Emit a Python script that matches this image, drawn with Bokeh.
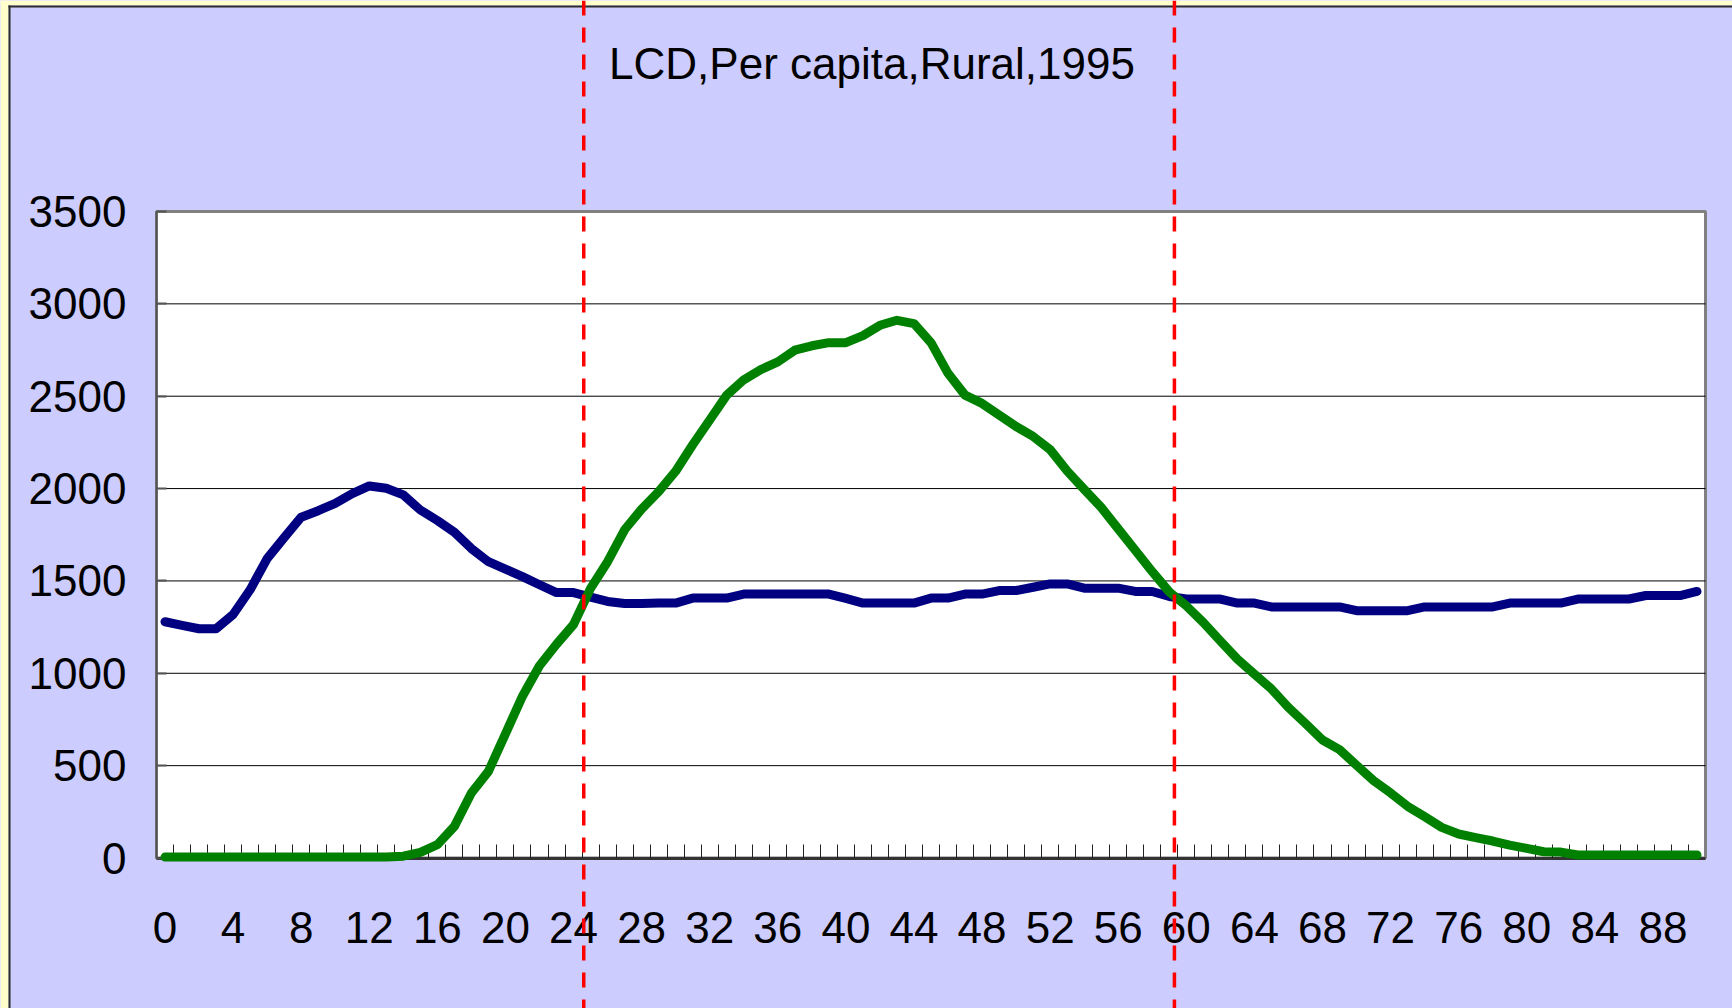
from bokeh.plotting import figure
from bokeh.models import (Range1d, LinearAxis, FixedTicker, Span, Label,
                          BoxAnnotation, ColumnDataSource, Grid)
from bokeh.embed import file_html
from bokeh.resources import INLINE

# ---------------- data ----------------
ages = list(range(0, 91))

lcd_blue = [
    1279, 1259, 1241, 1241, 1318, 1452, 1621, 1734, 1845, 1880,
    1920, 1973, 2014, 2002, 1966, 1884, 1827, 1764, 1675, 1604,
    1564, 1523, 1479, 1437, 1437, 1412, 1389, 1378, 1378, 1380,
    1380, 1407, 1407, 1407, 1429, 1429, 1429, 1429, 1429, 1429,
    1405, 1380, 1380, 1380, 1380, 1407, 1407, 1429, 1429, 1448,
    1448, 1466, 1484, 1484, 1461, 1461, 1461, 1443, 1443, 1416,
    1402, 1402, 1402, 1380, 1380, 1359, 1359, 1359, 1359, 1359,
    1339, 1339, 1339, 1339, 1359, 1359, 1359, 1359, 1359, 1380,
    1380, 1380, 1380, 1402, 1402, 1402, 1402, 1421, 1421, 1421,
    1443,
]

lcd_green = [
    5, 5, 5, 5, 5, 5, 5, 5, 5, 5,
    5, 5, 5, 5, 10, 30, 72, 171, 352, 469,
    672, 876, 1041, 1157, 1264, 1460, 1604, 1777, 1889, 1983,
    2094, 2237, 2371, 2506, 2589, 2644, 2686, 2749, 2773, 2790,
    2790, 2828, 2884, 2911, 2893, 2790, 2624, 2506, 2461, 2398,
    2336, 2282, 2211, 2095, 1996, 1898, 1782, 1666, 1550, 1440,
    1365, 1275, 1175, 1077, 996, 915, 815, 728, 639, 587,
    502, 419, 352, 280, 224, 166, 130, 110, 92, 70,
    52, 34, 32, 16, 16, 16, 16, 16, 16, 16,
    16,
]

y_ticks = [0, 500, 1000, 1500, 2000, 2500, 3000, 3500]
x_label_ticks = list(range(0, 89, 4))
marker_ages = [24.6, 59.3]
title_text = "LCD,Per capita,Rural,1995"

# ---------------- layout ----------------
FONT = "Liberation Sans"
FONT_SIZE = "44px"
W, H = 1732, 1008
FRAME_L, FRAME_R = 156.0, 1705.0      # canvas px of the plot area
FRAME_T, FRAME_B = 211.0, 857.5

x_lo, x_hi = ages[0] - 0.5, ages[-1] + 0.5
y_lo, y_hi = y_ticks[0], y_ticks[-1]
dx = (x_hi - x_lo) / (FRAME_R - FRAME_L)
dy = (y_hi - y_lo) / (FRAME_B - FRAME_T)
x_range = Range1d(x_lo - FRAME_L * dx, x_hi + (W - FRAME_R) * dx)
y_range = Range1d(y_lo - (H - FRAME_B) * dy, y_hi + FRAME_T * dy)


def px_to_x(px):
    return x_range.start + px * dx


def py_to_y(py):
    return y_range.end - py * dy


p = figure(width=W, height=H, x_range=x_range, y_range=y_range,
           output_backend="svg", toolbar_location=None,
           x_axis_location=None, y_axis_location=None, min_border=0,
           background_fill_color="#CCCCFF", border_fill_color="#CCCCFF",
           outline_line_color=None, title=None)

# drop any default grids (grid lines are drawn below, inside the plot area only)
p.center = [r for r in p.center if not isinstance(r, Grid)]

# outer yellow frame and its dark edge (top-left corner of the chart object)
for box in [
    dict(right=px_to_x(8)),                       # yellow strip, left
    dict(bottom=py_to_y(5)),                      # yellow strip, top
]:
    p.add_layout(BoxAnnotation(fill_color="#FFFFCC", fill_alpha=1.0,
                               line_alpha=0, level="underlay", **box))
p.add_layout(BoxAnnotation(left=px_to_x(8), right=px_to_x(10),
                           top=py_to_y(5), fill_color="#2b2b2b",
                           fill_alpha=1.0, line_alpha=0, level="underlay"))
p.add_layout(BoxAnnotation(left=px_to_x(8), top=py_to_y(5),
                           bottom=py_to_y(7), fill_color="#2b2b2b",
                           fill_alpha=1.0, line_alpha=0, level="underlay"))

# white plot area with grey border
p.add_layout(BoxAnnotation(left=x_lo, right=x_hi, bottom=y_lo, top=y_hi,
                           fill_color="white", fill_alpha=1.0,
                           line_color="#808080", line_alpha=1.0,
                           line_width=3, level="underlay"))

# horizontal grid lines
grid_src = ColumnDataSource(dict(y=y_ticks[1:-1]))
p.segment(x0=x_lo, x1=x_hi, y0="y", y1="y", source=grid_src,
          line_color="#000000", line_width=1)

# data lines
src = ColumnDataSource(dict(age=ages, blue=lcd_blue, green=lcd_green))
p.line("age", "blue", source=src, line_color="#000080", line_width=9,
       line_join="round", line_cap="round", level="annotation")
p.line("age", "green", source=src, line_color="#008000", line_width=9,
       line_join="round", line_cap="round", level="annotation")

# axes
xaxis = LinearAxis(
    fixed_location=y_lo, bounds=(x_lo, x_hi),
    ticker=FixedTicker(ticks=x_label_ticks,
                       minor_ticks=[a + 0.5 for a in ages[:-1]]),
    axis_line_color="#333333", axis_line_width=3,
    major_tick_in=0, major_tick_out=0,
    minor_tick_in=14, minor_tick_out=0,
    minor_tick_line_color="#222222", minor_tick_line_width=1,
    major_label_text_font=FONT, major_label_text_font_size=FONT_SIZE,
    major_label_text_color="black", major_label_standoff=54)
p.add_layout(xaxis, "below")

yaxis = LinearAxis(
    fixed_location=x_lo, bounds=(y_lo, y_hi),
    ticker=FixedTicker(ticks=y_ticks),
    axis_line_color="#555555", axis_line_width=2,
    major_tick_in=10, major_tick_out=0,
    major_tick_line_color="#555555", major_tick_line_width=2,
    major_label_text_font=FONT, major_label_text_font_size=FONT_SIZE,
    major_label_text_color="black", major_label_standoff=30)
p.add_layout(yaxis, "left")

# red dashed markers
for m in marker_ages:
    p.add_layout(Span(location=m, dimension="height", line_color="#FF0000",
                      line_width=3.5, line_dash="15 12", level="overlay"))

# title
p.add_layout(Label(x=px_to_x(871.5), y=py_to_y(63), text=title_text,
                   text_font=FONT, text_font_size=FONT_SIZE,
                   text_align="center", text_baseline="alphabetic",
                   text_color="black"))

open("out.html", "w").write(file_html(p, INLINE))
